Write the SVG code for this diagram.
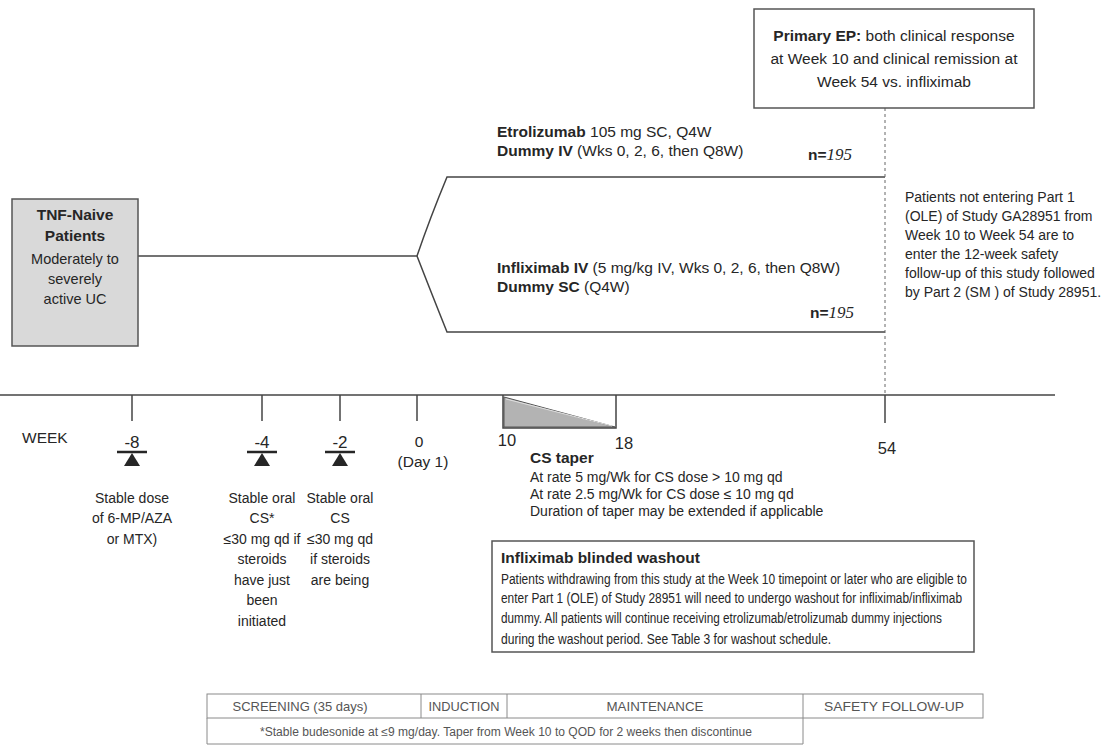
<svg xmlns="http://www.w3.org/2000/svg" width="1107" height="748" viewBox="0 0 1107 748">
<style>
.t{font-family:"Liberation Sans",Arial,sans-serif;fill:#262626}
.b{font-weight:bold}
.c{text-anchor:middle}
.ser{font-family:"Liberation Serif","Times New Roman",serif;font-style:italic;font-weight:normal}
.ln{stroke:#444;stroke-width:1.5;fill:none}
.box{fill:#fff;stroke:#555;stroke-width:1.5}
.tb{stroke:#8a8a8a;stroke-width:1;fill:none}
.tt{font-family:"Liberation Sans",Arial,sans-serif;fill:#555}
</style>
<defs>
<g id="mk">
<line x1="-15" y1="0" x2="15" y2="0" stroke="#262626" stroke-width="2.5"/>
<path d="M0,1 L-8,14 L8,14 Z" fill="#262626"/>
</g>
</defs>
<rect width="1107" height="748" fill="#fff"/>

<g id="connectors">
<path class="ln" d="M138,256 L417,256"/>
<path class="ln" d="M417,256 Q430,218 447,177 L885,177"/>
<path class="ln" d="M417,256 Q431,292 447,332 L885,332"/>
<line x1="885" y1="108" x2="885" y2="395" stroke="#666" stroke-width="1" stroke-dasharray="3,3"/>
<line class="ln" x1="0" y1="395" x2="1055" y2="395"/>
<line class="ln" x1="132" y1="395" x2="132" y2="421"/>
<line class="ln" x1="262" y1="395" x2="262" y2="421"/>
<line class="ln" x1="340" y1="395" x2="340" y2="421"/>
<line class="ln" x1="417" y1="395" x2="417" y2="421"/>
<line class="ln" x1="885" y1="395" x2="885" y2="423"/>
</g>

<g id="tnf-naive">
<rect x="12" y="199" width="126" height="147" fill="#d9d9d9" stroke="#555" stroke-width="1.5"/>
<text class="t b c" x="75" y="220" font-size="15.5">TNF-Naive</text>
<text class="t b c" x="75" y="241" font-size="15.5">Patients</text>
<text class="t c" x="75" y="264" font-size="14.5">Moderately to</text>
<text class="t c" x="75" y="284" font-size="14.5">severely</text>
<text class="t c" x="75" y="304" font-size="14.5">active UC</text>
</g>

<g id="primary-ep">
<rect class="box" x="754" y="9" width="280" height="99"/>
<text class="t c" x="894" y="41" font-size="15.5"><tspan class="b">Primary EP:</tspan> both clinical response</text>
<text class="t c" x="894" y="64" font-size="15.5">at Week 10 and clinical remission at</text>
<text class="t c" x="894" y="87" font-size="15.5">Week 54 vs. infliximab</text>
</g>

<g id="arm-etrolizumab">
<text class="t" x="497" y="137" font-size="15.5"><tspan class="b">Etrolizumab</tspan> 105 mg SC, Q4W</text>
<text class="t" x="497" y="156" font-size="15.5"><tspan class="b">Dummy IV</tspan> (Wks 0, 2, 6, then Q8W)</text>
<text class="t" x="808" y="160" font-size="15.5"><tspan class="b">n=</tspan><tspan class="ser" font-size="17">195</tspan></text>
</g>

<g id="arm-infliximab">
<text class="t" x="497" y="273" font-size="15.5"><tspan class="b">Infliximab IV</tspan> (5 mg/kg IV, Wks 0, 2, 6, then Q8W)</text>
<text class="t" x="497" y="292" font-size="15.5"><tspan class="b">Dummy SC</tspan> (Q4W)</text>
<text class="t" x="810" y="318" font-size="15.5"><tspan class="b">n=</tspan><tspan class="ser" font-size="17">195</tspan></text>
</g>

<g id="followup-note">
<text class="t" x="905" y="202" font-size="14">Patients not entering Part 1</text>
<text class="t" x="905" y="221" font-size="14">(OLE) of Study GA28951 from</text>
<text class="t" x="905" y="240" font-size="14">Week 10 to Week 54 are to</text>
<text class="t" x="905" y="259" font-size="14">enter the 12-week safety</text>
<text class="t" x="905" y="278" font-size="14">follow-up of this study followed</text>
<text class="t" x="905" y="297" font-size="14">by Part 2 (SM ) of Study 28951.</text>
</g>

<g id="week-labels">
<text class="t" x="22" y="443" font-size="15.5">WEEK</text>
<text class="t c" x="419" y="447" font-size="15.5">0</text>
<text class="t c" x="423" y="467" font-size="15.5">(Day 1)</text>
<text class="t c" x="507" y="446" font-size="16.5">10</text>
<text class="t c" x="624" y="449" font-size="16.5">18</text>
<text class="t c" x="887" y="454" font-size="16.5">54</text>
</g>

<g id="week-minus8">
<text class="t c" x="132" y="448" font-size="17">-8</text>
<use href="#mk" x="132" y="452"/>
<text class="t c" x="132" y="503" font-size="14">Stable dose</text>
<text class="t c" x="132" y="523" font-size="14">of 6-MP/AZA</text>
<text class="t c" x="132" y="544" font-size="14">or MTX)</text>
</g>

<g id="week-minus4">
<text class="t c" x="262" y="448" font-size="17">-4</text>
<use href="#mk" x="262" y="452"/>
<text class="t c" x="262" y="503" font-size="14">Stable oral</text>
<text class="t c" x="262" y="523" font-size="14">CS*</text>
<text class="t c" x="262" y="544" font-size="14">≤30 mg qd if</text>
<text class="t c" x="262" y="564" font-size="14">steroids</text>
<text class="t c" x="262" y="585" font-size="14">have just</text>
<text class="t c" x="262" y="605" font-size="14">been</text>
<text class="t c" x="262" y="626" font-size="14">initiated</text>
</g>

<g id="week-minus2">
<text class="t c" x="340" y="448" font-size="17">-2</text>
<use href="#mk" x="340" y="452"/>
<text class="t c" x="340" y="503" font-size="14">Stable oral</text>
<text class="t c" x="340" y="523" font-size="14">CS</text>
<text class="t c" x="340" y="544" font-size="14">≤30 mg qd</text>
<text class="t c" x="340" y="564" font-size="14">if steroids</text>
<text class="t c" x="340" y="585" font-size="14">are being</text>
</g>

<g id="cs-taper">
<path d="M504,397 L504,427 L615,427 Z" fill="#b3b3b3" stroke="#555" stroke-width="1"/>
<line x1="506" y1="399" x2="612" y2="426" stroke="#e0e0e0" stroke-width="1"/>
<path class="ln" d="M503,395 L503,428 L616,428 L616,395"/>
<text class="t b" x="530" y="463" font-size="15.5">CS taper</text>
<text class="t" x="530" y="482" font-size="14">At rate 5 mg/Wk for CS dose  &gt; 10 mg qd</text>
<text class="t" x="530" y="499" font-size="14">At rate 2.5 mg/Wk for CS dose ≤ 10 mg qd</text>
<text class="t" x="530" y="516" font-size="14">Duration of taper may be extended if applicable</text>
</g>

<g id="washout">
<rect class="box" x="492" y="541" width="482" height="111"/>
<text class="t b" x="501" y="563" font-size="15.5">Infliximab blinded washout</text>
<text class="t" x="501" y="584" font-size="14" textLength="466" lengthAdjust="spacingAndGlyphs">Patients withdrawing from this study at the Week 10 timepoint or later who are eligible to</text>
<text class="t" x="501" y="603" font-size="14" textLength="461" lengthAdjust="spacingAndGlyphs">enter Part 1 (OLE) of Study 28951 will need to undergo washout for infliximab/infliximab</text>
<text class="t" x="501" y="623" font-size="14" textLength="441" lengthAdjust="spacingAndGlyphs">dummy.  All patients will continue receiving etrolizumab/etrolizumab dummy injections</text>
<text class="t" x="501" y="644" font-size="14" textLength="330" lengthAdjust="spacingAndGlyphs">during the washout period.  See Table 3 for washout schedule.</text>
</g>

<g id="phase-table">
<rect class="tb" x="207" y="694" width="776" height="24"/>
<path class="tb" d="M421,694 L421,718 M507,694 L507,718 M803,694 L803,744 M207,718 L207,744 L803,744"/>
<text class="tt c" x="300" y="711" font-size="13" textLength="135" lengthAdjust="spacingAndGlyphs">SCREENING (35 days)</text>
<text class="tt c" x="464" y="711" font-size="13" textLength="71" lengthAdjust="spacingAndGlyphs">INDUCTION</text>
<text class="tt c" x="655" y="711" font-size="13" textLength="97" lengthAdjust="spacingAndGlyphs">MAINTENANCE</text>
<text class="tt c" x="894" y="711" font-size="13" textLength="140" lengthAdjust="spacingAndGlyphs">SAFETY FOLLOW-UP</text>
<text class="tt c" x="506" y="736" font-size="12" textLength="492" lengthAdjust="spacingAndGlyphs">*Stable budesonide at ≤9 mg/day.  Taper from Week 10 to QOD for 2 weeks then discontinue</text>
</g>
</svg>
